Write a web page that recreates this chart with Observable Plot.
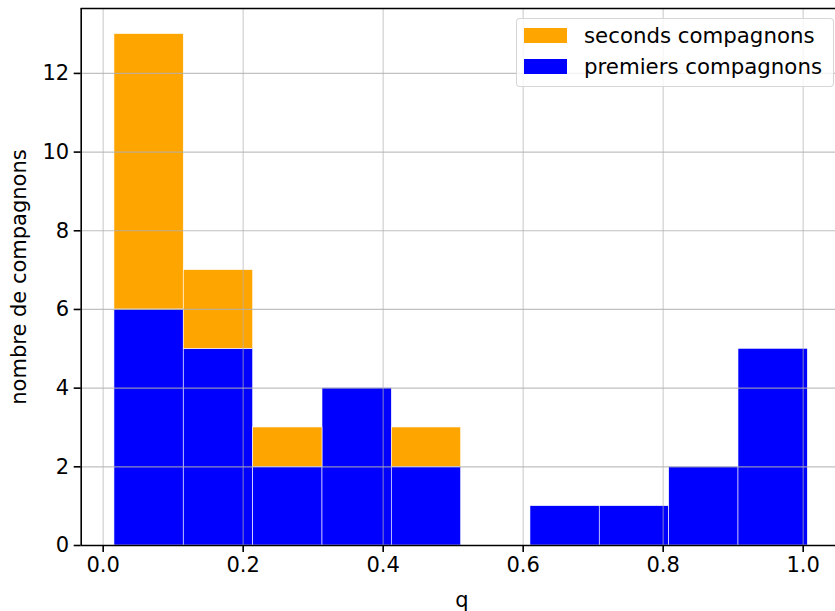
<!DOCTYPE html>
<html>
<head>
<meta charset="utf-8">
<script src="https://cdn.jsdelivr.net/npm/d3@7"></script>
<script src="https://cdn.jsdelivr.net/npm/@observablehq/plot@0.6"></script>
<style>
  html, body { margin: 0; padding: 0; background: white; overflow: hidden; }
  #wrap { position: relative; width: 835px; height: 611px; font-family: "DejaVu Sans", sans-serif; }
  #legend { position: absolute; left: 516px; top: 18px; width: 318px; height: 69px;
    border: 1.2px solid rgba(204,204,204,0.8); border-radius: 4px; background: rgba(255,255,255,0.8);
    box-sizing: border-box; font-size: 21.3px; color: #000; }
  .row { position: absolute; left: 7px; display: flex; align-items: center; }
  .sw { width: 43px; height: 15px; margin-right: 17px; }
</style>
</head>
<body>
<div id="wrap"></div>
<script>
const binEdges = [0.0161, 0.1151, 0.2143, 0.3133, 0.4123, 0.5114, 0.6104, 0.7094, 0.8086, 0.9076, 1.0066];
const premiers = [6, 5, 2, 4, 2, 0, 1, 1, 2, 5];
const seconds  = [7, 2, 1, 0, 1, 0, 0, 0, 0, 0];
const xTicks = [0, 0.2, 0.4, 0.6, 0.8, 1.0];
const yTicks = [0, 2, 4, 6, 8, 10, 12];
const seriesNames = ["seconds compagnons", "premiers compagnons"];
const seriesColors = ["orange", "blue"];

const bins = premiers.map((p, i) => ({x1: binEdges[i], x2: binEdges[i + 1], p, s: seconds[i]}));

const chart = Plot.plot({
  width: 835,
  height: 611,
  marginLeft: 80.7,
  marginRight: -7.3,
  marginTop: 8,
  marginBottom: 66,
  style: {fontFamily: "DejaVu Sans, sans-serif", fontSize: "21px", color: "#000", background: "white"},
  x: {domain: [-0.0314, 1.0566]},
  y: {domain: [0, 13.65]},
  marks: [
    Plot.rect(bins, {x1: "x1", x2: "x2", y1: 0, y2: "p", fill: "blue", stroke: "white", strokeWidth: 0.6}),
    Plot.rect(bins.filter(d => d.s > 0), {x1: "x1", x2: "x2", y1: "p", y2: d => d.p + d.s, fill: "orange", stroke: "white", strokeWidth: 0.6}),
    Plot.gridX(xTicks, {stroke: "#b0b0b0", strokeOpacity: 0.6, strokeWidth: 1.2}),
    Plot.gridY(yTicks, {stroke: "#b0b0b0", strokeOpacity: 0.8, strokeWidth: 1.2}),
    Plot.axisX(xTicks, {tickFormat: d3.format(".1f"), tickSize: 7, tickPadding: 5, strokeWidth: 1.6, fontSize: 21,
      label: "q", labelAnchor: "center", labelOffset: 61, labelArrow: "none"}),
    Plot.axisY(yTicks, {tickSize: 7, tickPadding: 5, strokeWidth: 1.6, fontSize: 21,
      label: "nombre de compagnons", labelAnchor: "center", labelOffset: 70, labelArrow: "none"}),
    Plot.ruleY([0], {stroke: "black", strokeWidth: 1.6}),
    Plot.ruleX([-0.0314], {stroke: "black", strokeWidth: 1.6}),
    Plot.ruleY([13.65], {stroke: "black", strokeWidth: 1.6})
  ]
});
document.getElementById("wrap").appendChild(chart);

const legend = document.createElement("div");
legend.id = "legend";
seriesNames.forEach((name, i) => {
  const row = document.createElement("div");
  row.className = "row";
  row.style.top = (i === 0 ? 4 : 35) + "px";
  const sw = document.createElement("div");
  sw.className = "sw";
  sw.style.background = seriesColors[i];
  const t = document.createElement("span");
  t.textContent = name;
  row.appendChild(sw); row.appendChild(t);
  legend.appendChild(row);
});
document.getElementById("wrap").appendChild(legend);
</script>
</body>
</html>
